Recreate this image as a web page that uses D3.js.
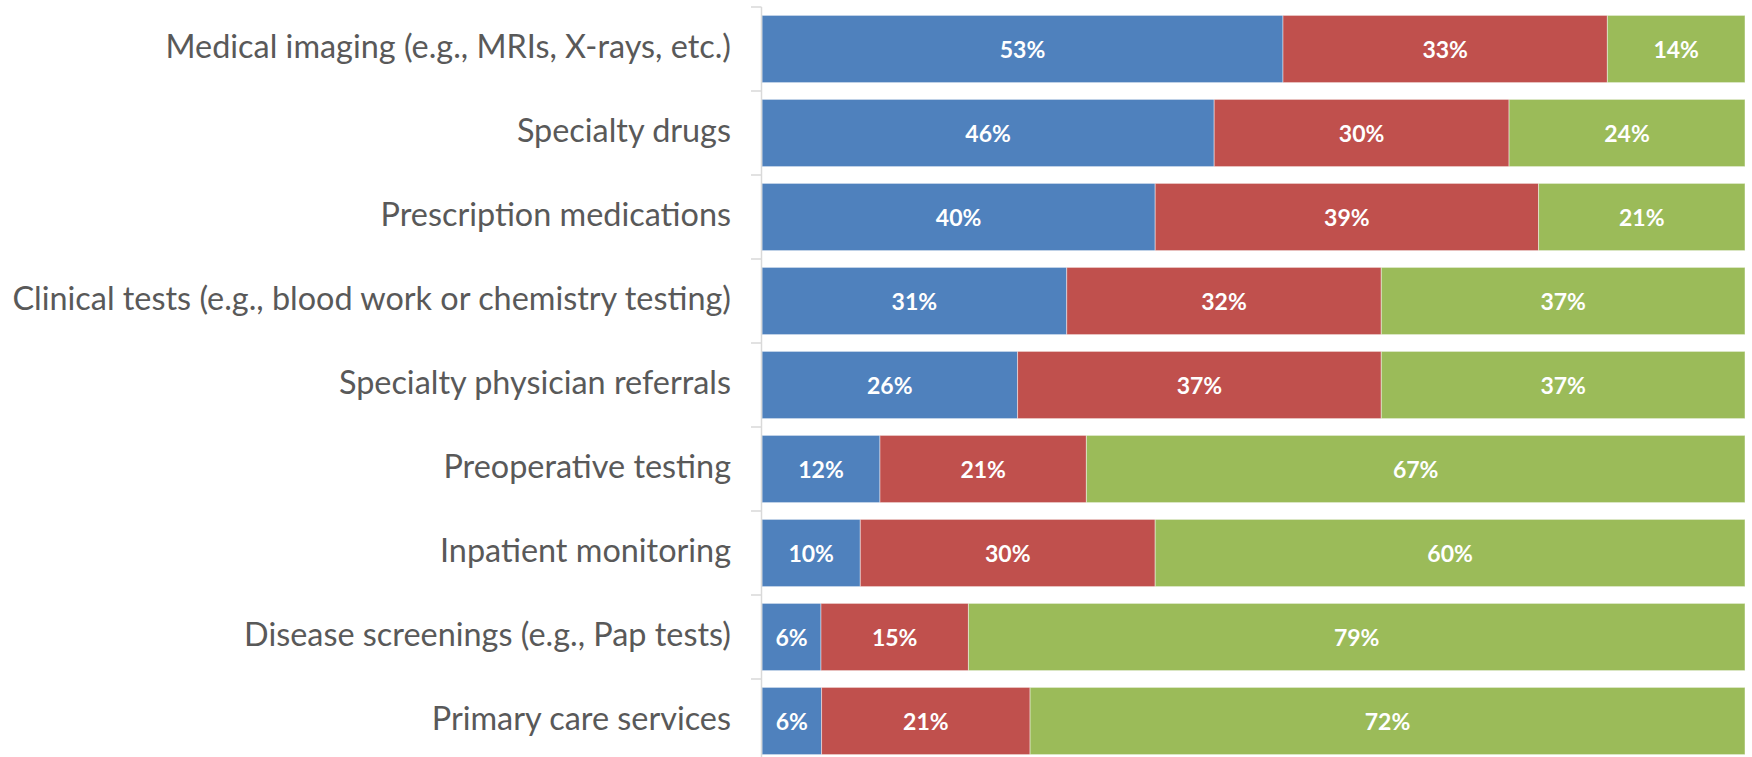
<!DOCTYPE html>
<html>
<head>
<meta charset="utf-8">
<script src="https://cdn.jsdelivr.net/npm/d3@7"></script>
<style>
  html, body { margin: 0; padding: 0; background: #fff; }
  svg { display: block; }
</style>
</head>
<body>
<svg id="chart"></svg>
<script>
const categories = [
  "Medical imaging (e.g., MRIs, X-rays, etc.)",
  "Specialty drugs",
  "Prescription medications",
  "Clinical tests (e.g., blood work or chemistry testing)",
  "Specialty physician referrals",
  "Preoperative testing",
  "Inpatient monitoring",
  "Disease screenings (e.g., Pap tests)",
  "Primary care services"
]
const seriesKeys = ["a", "b", "c"]
const seriesA = [53, 46, 40, 31, 26, 12, 10, 6, 6]
const seriesB = [33, 30, 39, 32, 37, 21, 30, 15, 21]
const seriesC = [14, 24, 21, 37, 37, 67, 60, 79, 72]
const colors = ["#4F81BD", "#C0504D", "#9BBB59"]

const width = 1752, height = 757
const left = 762, right = 1745

const rows = categories.map((c, i) => ({cat: c, a: seriesA[i], b: seriesB[i], c: seriesC[i]}))

const svg = d3.select("#chart").attr("width", width).attr("height", height)

const x = d3.scaleLinear().domain([0, 1]).range([left, right])
const y = d3.scaleBand()
  .domain(categories)
  .range([7, 763])
  .paddingInner(0.2)
  .paddingOuter(0.1)

// 100% stacked, like the original
const stack = d3.stack().keys(seriesKeys).offset(d3.stackOffsetExpand)
const layers = stack(rows)

const g = svg.selectAll("g.layer")
  .data(layers)
  .enter().append("g")
  .attr("class", "layer")
  .attr("fill", (d, i) => colors[i])

g.selectAll("rect")
  .data(d => d)
  .enter().append("rect")
  .attr("x", d => x(d[0]))
  .attr("y", d => y(d.data.cat))
  .attr("width", d => x(d[1]) - x(d[0]))
  .attr("height", y.bandwidth())
  .attr("stroke", "#fff")
  .attr("stroke-opacity", 0.45)
  .attr("stroke-width", 1)

// value labels
layers.forEach(layer => {
  svg.append("g").selectAll("text")
    .data(layer)
    .enter().append("text")
    .attr("x", d => (x(d[0]) + x(d[1])) / 2)
    .attr("y", d => y(d.data.cat) + y.bandwidth() / 2)
    .attr("text-anchor", "middle")
    .attr("dominant-baseline", "central")
    .attr("fill", "#fff")
    .style("font-family", "Lato, 'Open Sans', sans-serif")
    .style("font-weight", "bold")
    .style("font-size", "23px")
    .text(d => d.data[layer.key] + "%")
})

// category axis, ticks sit between bands
const step = y.step()
const boundaries = categories.map(c => y(c) - y.paddingInner() * step / 2)
boundaries.push(y(categories[categories.length - 1]) + y.bandwidth() + y.paddingInner() * step / 2)

const axis = svg.append("g").attr("stroke", "#D9D9D9").attr("stroke-width", 1.5)
axis.append("line")
  .attr("x1", left - 0.5).attr("x2", left - 0.5)
  .attr("y1", boundaries[0]).attr("y2", height)
axis.selectAll("line.tick")
  .data(boundaries)
  .enter().append("line")
  .attr("class", "tick")
  .attr("x1", left - 11).attr("x2", left - 0.5)
  .attr("y1", d => d).attr("y2", d => d)

// labels sit a little above the bar centre, as in the original
const labels = svg.append("g").selectAll("text")
  .data(categories)
  .enter().append("text")
  .attr("x", 731)
  .attr("y", d => y(d) + y.bandwidth() / 2 - 4)
  .attr("text-anchor", "end")
  .attr("dominant-baseline", "central")
  .attr("fill", "#595959")
  .style("font-family", "Lato, 'Open Sans', sans-serif")
  .style("font-size", "30px")
  .text(d => d)

// fit the longest label to the width it takes in the original
const longest = d3.max(labels.nodes(), n => n.getComputedTextLength())
labels.style("font-size", (30 * 719 / longest) + "px")
</script>
</body>
</html>
